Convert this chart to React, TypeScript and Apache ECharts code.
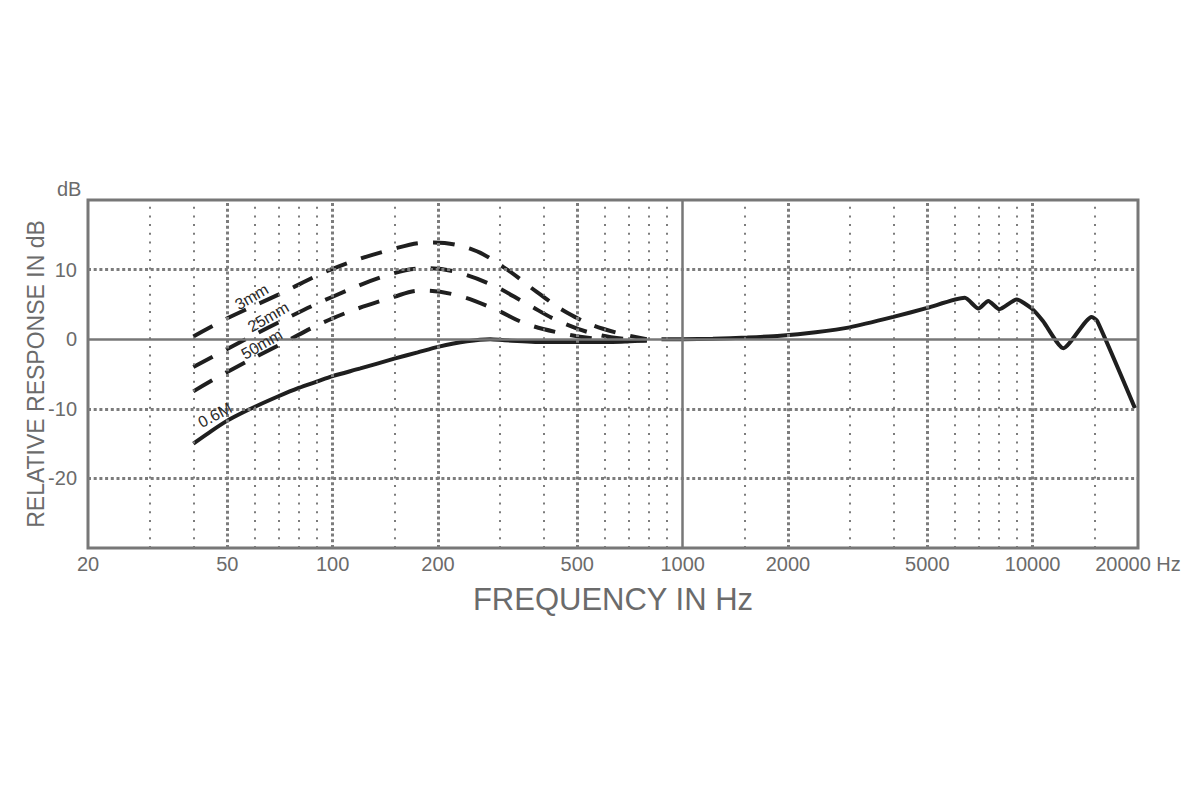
import React, { useEffect, useRef } from 'react';
import * as echarts from 'echarts';

const FONT = '"Liberation Sans", Arial, Helvetica, sans-serif';
const TEXT_GRAY = '#6b6b6b';
const GRID_GRAY = '#7c7c7c';
const INK = '#1f1f1f';

// Axis tick labels
const freqTickLabels = [20, 50, 100, 200, 500, 1000, 2000, 5000, 10000, 20000];
const dbTickValues = [-30, -20, -10, 0, 10, 20];

// Grid line positions
const majorGridFreqs = [50, 100, 200, 500, 2000, 5000, 10000];
const minorGridFreqs = [30, 40, 60, 70, 80, 90, 150, 300, 400, 600, 700, 800, 900, 1500, 3000, 4000, 6000, 7000, 8000, 9000, 15000];
const solidGridFreqs = [1000];
const dottedGridDb = [10, -10, -20];
const solidGridDb = [0];

// 0.6M (solid, low-frequency roll-off)
const farFreq = [40, 45, 50, 55, 60, 70, 80, 90, 100, 120, 150, 175, 200, 242, 282, 310, 400, 500, 630, 790];
const farDb = [-15.0, -13.2, -11.7, -10.6, -9.7, -8.2, -7.0, -6.1, -5.3, -4.2, -2.8, -1.9, -1.1, -0.3, 0, -0.15, -0.4, -0.4, -0.4, -0.2];

// Common response above ~870 Hz (solid)
const mainFreq = [870, 1000, 1220, 1530, 1900, 2400, 3000, 4000, 5000, 6400, 7000, 7470, 8030, 9000, 9940, 10700, 12240, 14750, 15300, 19600];
const mainDb = [0, 0, 0.05, 0.25, 0.5, 1.0, 1.7, 3.2, 4.5, 5.95, 4.4, 5.5, 4.3, 5.7, 4.4, 2.6, -1.3, 3.2, 2.6, -9.9];

// Proximity effect curves (dashed)
const mm3Freq = [40, 50, 70, 100, 150, 190, 247, 307, 383, 468, 592, 790];
const mm3Db = [0.4, 3.0, 6.4, 10.1, 13.0, 13.9, 13.0, 10.4, 6.8, 3.8, 1.5, 0];

const mm25Freq = [40, 50, 70, 100, 150, 190, 227, 288, 358, 447, 567, 724, 790];
const mm25Db = [-4.0, -1.4, 2.4, 6.1, 9.5, 10.2, 9.6, 7.7, 5.1, 2.5, 0.7, -0.1, -0.2];

const mm50Freq = [40, 50, 70, 100, 150, 180, 227, 288, 358, 447, 556, 700];
const mm50Db = [-7.5, -4.7, -0.9, 3.0, 6.1, 7.0, 6.3, 4.4, 2.2, 0.9, 0.1, -0.3];

// Curve annotations (data-space anchor, text, rotation)
const curveLabels = [
  { text: '3mm', freq: 58.7, db: 6.1, rotate: 30 },
  { text: '25mm', freq: 65.5, db: 3.2, rotate: 30 },
  { text: '50mm', freq: 62.7, db: -0.7, rotate: 30 },
  { text: '0.6M', freq: 46.1, db: -10.9, rotate: 28 },
];

const zip = (xs: number[], ys: number[]) => xs.map((x, i) => [x, ys[i]]);

export default function App() {
  const ref = useRef<HTMLDivElement>(null);

  useEffect(() => {
    if (!ref.current) return;
    const chart = echarts.init(ref.current, undefined, { renderer: 'svg' });

    const minorStyle = { type: [2, 6.7], width: 2, color: GRID_GRAY };
    const majorStyle = { type: [3, 2.7], width: 3, color: GRID_GRAY };
    const solidStyle = { type: 'solid', width: 2.5, color: '#777' };

    const gridLines: any[] = [
      ...minorGridFreqs.map((f) => ({ xAxis: f, lineStyle: minorStyle })),
      ...majorGridFreqs.map((f) => ({ xAxis: f, lineStyle: majorStyle })),
      ...solidGridFreqs.map((f) => ({ xAxis: f, lineStyle: solidStyle })),
      ...dottedGridDb.map((d) => ({ yAxis: d, lineStyle: majorStyle })),
      ...solidGridDb.map((d) => ({ yAxis: d, lineStyle: solidStyle })),
    ];

    const labelPoints = curveLabels.map((l) => ({
      coord: [l.freq, l.db],
      symbolSize: 0,
      label: {
        show: true,
        position: 'inside',
        formatter: l.text,
        rotate: l.rotate,
        fontSize: 16,
        color: '#2a2a2a',
        fontFamily: FONT,
      },
    }));

    const solidLine = { color: INK, width: 4, type: 'solid' as const };
    const dashLine = { color: INK, width: 4, type: [22, 15], cap: 'butt' as const };

    const base = {
      type: 'line',
      showSymbol: false,
      symbol: 'none',
      silent: true,
      emphasis: { disabled: true },
      z: 3,
    };

    chart.setOption({
      animation: false,
      backgroundColor: '#ffffff',
      textStyle: { fontFamily: FONT },
      grid: {
        left: 88,
        right: 62,
        top: 200,
        bottom: 252,
        show: true,
        borderColor: '#777',
        borderWidth: 3,
        backgroundColor: 'transparent',
      },
      xAxis: {
        type: 'log',
        logBase: 10,
        min: 20,
        max: 20000,
        name: 'FREQUENCY IN Hz',
        nameLocation: 'middle',
        nameGap: 36,
        nameMoveOverlap: false,
        nameTextStyle: { fontSize: 31, color: TEXT_GRAY, fontFamily: FONT },
        axisLine: { show: false },
        axisTick: { show: false },
        splitLine: { show: false },
        minorSplitLine: { show: false },
        axisLabel: {
          customValues: freqTickLabels,
          formatter: (v: number) => {
            const r = Math.round(v);
            return r === 20000 ? '20000 Hz' : String(r);
          },
          fontSize: 20,
          color: TEXT_GRAY,
          margin: 6,
          fontFamily: FONT,
        },
      },
      yAxis: {
        type: 'value',
        min: dbTickValues[0],
        max: dbTickValues[dbTickValues.length - 1],
        interval: 10,
        name: 'RELATIVE RESPONSE IN dB',
        nameLocation: 'middle',
        nameGap: 41,
        nameMoveOverlap: false,
        nameTextStyle: { fontSize: 23, color: TEXT_GRAY, fontFamily: FONT },
        axisLine: { show: false },
        axisTick: { show: false },
        splitLine: { show: false },
        axisLabel: {
          formatter: (v: number) => (v === -30 || v === 20 ? '' : String(v)),
          fontSize: 20,
          color: TEXT_GRAY,
          margin: 11,
          fontFamily: FONT,
        },
      },
      graphic: [
        {
          type: 'text',
          left: 57,
          top: 179,
          style: { text: 'dB', fill: TEXT_GRAY, font: `20px ${FONT}` },
        },
      ],
      series: [
        {
          type: 'line',
          data: [[20, -40]],
          symbol: 'none',
          silent: true,
          z: 1,
          lineStyle: { opacity: 0 },
          markLine: {
            silent: true,
            symbol: ['none', 'none'],
            label: { show: false },
            emphasis: { disabled: true },
            data: gridLines,
          },
        },
        { ...base, name: '0.6M', data: zip(farFreq, farDb), smooth: 0.25, lineStyle: solidLine,
          markPoint: { symbol: 'circle', symbolSize: 0, silent: true, data: labelPoints } },
        { ...base, name: 'main', data: zip(mainFreq, mainDb), smooth: 0.2, lineStyle: solidLine },
        { ...base, name: '3mm', data: zip(mm3Freq, mm3Db), smooth: 0.4, lineStyle: dashLine },
        { ...base, name: '25mm', data: zip(mm25Freq, mm25Db), smooth: 0.4, lineStyle: dashLine },
        { ...base, name: '50mm', data: zip(mm50Freq, mm50Db), smooth: 0.4, lineStyle: dashLine },
      ],
    });

    return () => chart.dispose();
  }, []);

  return (
    <div
      ref={ref}
      style={{ position: 'fixed', left: 0, top: 0, width: 1200, height: 800, background: '#fff' }}
    />
  );
}
